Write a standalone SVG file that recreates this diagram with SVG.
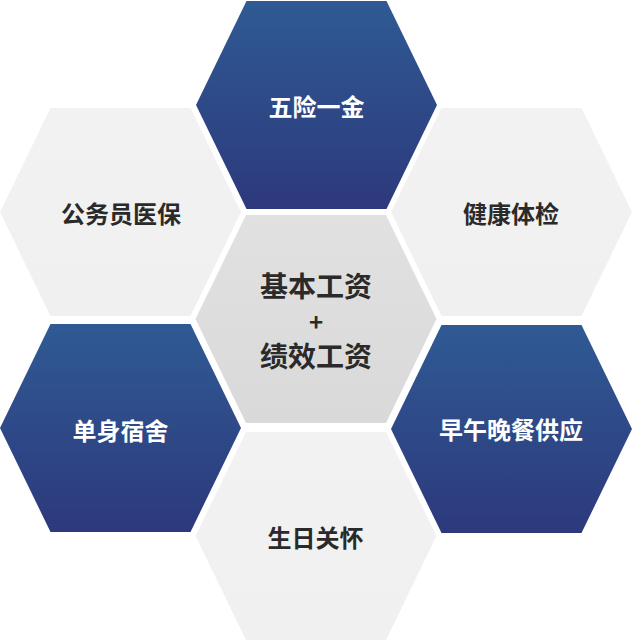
<svg xmlns="http://www.w3.org/2000/svg" xmlns:xlink="http://www.w3.org/1999/xlink" width="632" height="640" viewBox="0 0 632 640">
  <style>
    .lbl { font-family: "Noto Sans CJK SC", "Noto Sans", sans-serif; font-weight: 700; text-anchor: middle; dominant-baseline: central; }
    .dark { fill: #2A2A2A; font-size: 24px; }
    .light { fill: #FFFFFF; font-size: 24px; }
    .big { fill: #2A2A2A; font-size: 28px; }
    .plus { fill: #2A2A2A; font-size: 24px; }
    .blue { fill: url(#gBlue); }
    .pale { fill: url(#gPale); }
    .mid { fill: url(#gMid); }
  </style>
  <defs>
    <linearGradient id="gBlue" x1="0" y1="0" x2="0" y2="1">
      <stop offset="0" stop-color="#2F5A93"/>
      <stop offset="1" stop-color="#2D397C"/>
    </linearGradient>
    <linearGradient id="gPale" x1="0" y1="0" x2="0" y2="1">
      <stop offset="0" stop-color="#F2F2F2"/>
      <stop offset="1" stop-color="#F0F0F0"/>
    </linearGradient>
    <linearGradient id="gMid" x1="0" y1="0" x2="0" y2="1">
      <stop offset="0" stop-color="#E1E1E1"/>
      <stop offset="1" stop-color="#D9D9D9"/>
    </linearGradient>
    <polygon id="hex" points="-120.5,0 -70,-104 70,-104 120.5,0 70,104 -70,104"/>
  </defs>
  <rect width="632" height="640" fill="#FFFFFF"/>
  <g id="node-center">
    <use xlink:href="#hex" href="#hex" x="316" y="319" class="mid"/>
    <text class="lbl big" x="316" y="285">基本工资</text>
    <text class="lbl plus" x="316" y="320">+</text>
    <text class="lbl big" x="316" y="355">绩效工资</text>
  </g>
  <g id="node-wuxian">
    <use xlink:href="#hex" href="#hex" x="316.5" y="105" class="blue"/>
    <text class="lbl light" x="316.5" y="105">五险一金</text>
  </g>
  <g id="node-yibao">
    <use xlink:href="#hex" href="#hex" x="120.5" y="212" class="pale"/>
    <text class="lbl dark" x="121" y="212.5">公务员医保</text>
  </g>
  <g id="node-tijian">
    <use xlink:href="#hex" href="#hex" x="511.5" y="212" class="pale"/>
    <text class="lbl dark" x="511" y="212.5">健康体检</text>
  </g>
  <g id="node-sushe">
    <use xlink:href="#hex" href="#hex" x="120.5" y="428" class="blue"/>
    <text class="lbl light" x="120.5" y="429">单身宿舍</text>
  </g>
  <g id="node-canyin">
    <use xlink:href="#hex" href="#hex" x="511.5" y="429" class="blue"/>
    <text class="lbl light" x="511" y="428.5">早午晚餐供应</text>
  </g>
  <g id="node-shengri">
    <use xlink:href="#hex" href="#hex" x="316" y="536" class="pale"/>
    <text class="lbl dark" x="315.5" y="536.5">生日关怀</text>
  </g>
</svg>
